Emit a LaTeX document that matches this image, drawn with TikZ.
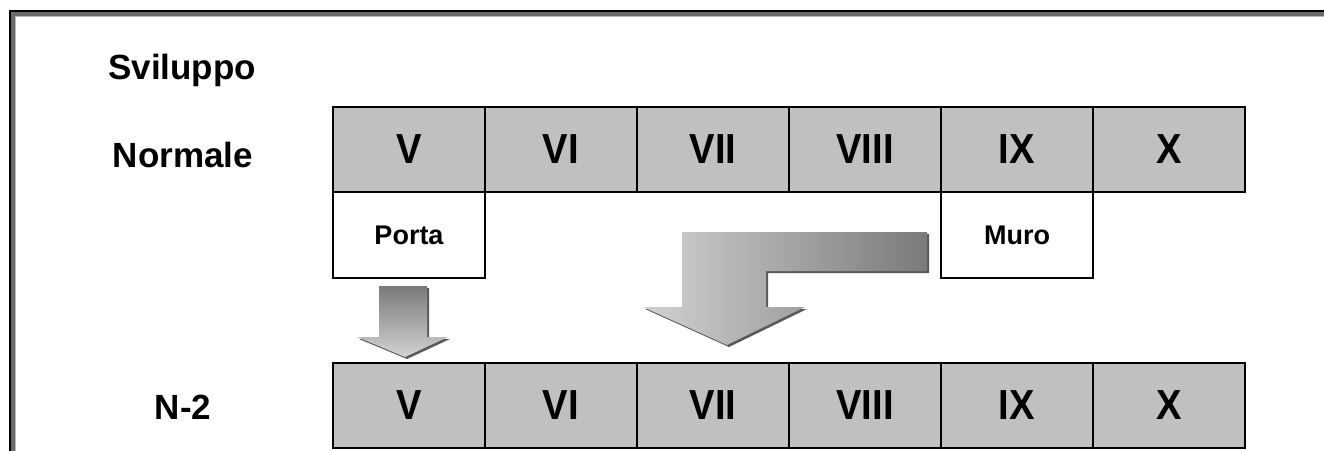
\documentclass[tikz,border=0pt]{standalone}
\usepackage{graphicx}
\usepackage{fontspec}
\setmainfont{Liberation Sans}
\definecolor{cellgray}{HTML}{C0C0C0}
\definecolor{framegray}{HTML}{6A6A6A}
\definecolor{framelight}{HTML}{B8B8B8}
\definecolor{arrowdark}{HTML}{7A7A7A}
\definecolor{arrowlight}{HTML}{D2D2D2}
\definecolor{shadowgray}{HTML}{5A5A5A}
% numerals are set slightly condensed
\newcommand{\numtext}[1]{\scalebox{0.91}[1]{#1}}
\begin{document}
\begin{tikzpicture}[x=1pt,y=-1pt,
  cell/.style={draw=black, line width=2.5pt, fill=cellgray, minimum width=152pt,
    minimum height=85pt, inner sep=0pt,
    font=\fontsize{42}{42}\selectfont\bfseries},
  notebox/.style={draw=black, line width=2.5pt, fill=white, minimum width=152pt,
    minimum height=86pt, inner sep=0pt,
    font=\fontsize{27}{27}\selectfont\bfseries},
  rowlabel/.style={inner sep=0pt, font=\fontsize{35}{35}\selectfont\bfseries},
  blockarrow/.style={draw=none}]
\useasboundingbox (0,0) rectangle (1324,450);
\clip (0,0) rectangle (1324,450);
\fill[white] (0,0) rectangle (1324,450);

% slide frame with its dark bevel
\fill[black] (9,10) rectangle (1340,470);
\fill[framegray] (11,12) rectangle (1340,470);
\fill[framelight] (15,16) rectangle (1340,470);
\fill[white] (16,17) rectangle (1340,470);

% row titles
\node[rowlabel, anchor=base west] (title) at (108,79) {Sviluppo};
\node[rowlabel, anchor=base] (lnorm) at (183,167) {Normale};
\node[rowlabel, anchor=base] (ln2) at (183,419) {N-2};

% top row of cells
\node[cell] (a5) at (409,149.5) {\numtext{V}};
\node[cell] (a6) at (561,149.5) {\numtext{VI}};
\node[cell] (a7) at (713,149.5) {\numtext{VII}};
\node[cell] (a8) at (865,149.5) {\numtext{VIII}};
\node[cell] (a9) at (1017,149.5) {\numtext{IX}};
\node[cell] (a10) at (1169,149.5) {\numtext{X}};

% notes under the top row
\node[notebox] (porta) at (409,235) {Porta};
\node[notebox] (muro) at (1017,235) {Muro};

% bottom row of cells
\node[cell] (b5) at (409,405.5) {\numtext{V}};
\node[cell] (b6) at (561,405.5) {\numtext{VI}};
\node[cell] (b7) at (713,405.5) {\numtext{VII}};
\node[cell] (b8) at (865,405.5) {\numtext{VIII}};
\node[cell] (b9) at (1017,405.5) {\numtext{IX}};
\node[cell] (b10) at (1169,405.5) {\numtext{X}};

% straight block arrow under Porta
\fill[shadowgray, shift={(2,2)}]
  (379,286) -- (427,286) -- (427,337) -- (448,337) -- (405,357) -- (357,337) -- (379,337) -- cycle;
\shade[blockarrow, top color=arrowdark, bottom color=arrowlight]
  (379,286) -- (427,286) -- (427,337) -- (448,337) -- (405,357) -- (357,337) -- (379,337) -- cycle;

% bent block arrow from Muro down to VII
\fill[shadowgray, shift={(2,2)}]
  (927,232) -- (682,232) -- (682,307) -- (643,307) -- (727,345) -- (805,307)
  -- (766,307) -- (766,271) -- (927,271) -- cycle;
\shade[blockarrow, left color=arrowlight, right color=arrowdark]
  (927,232) -- (682,232) -- (682,307) -- (643,307) -- (727,345) -- (805,307)
  -- (766,307) -- (766,271) -- (927,271) -- cycle;
\end{tikzpicture}
\end{document}
